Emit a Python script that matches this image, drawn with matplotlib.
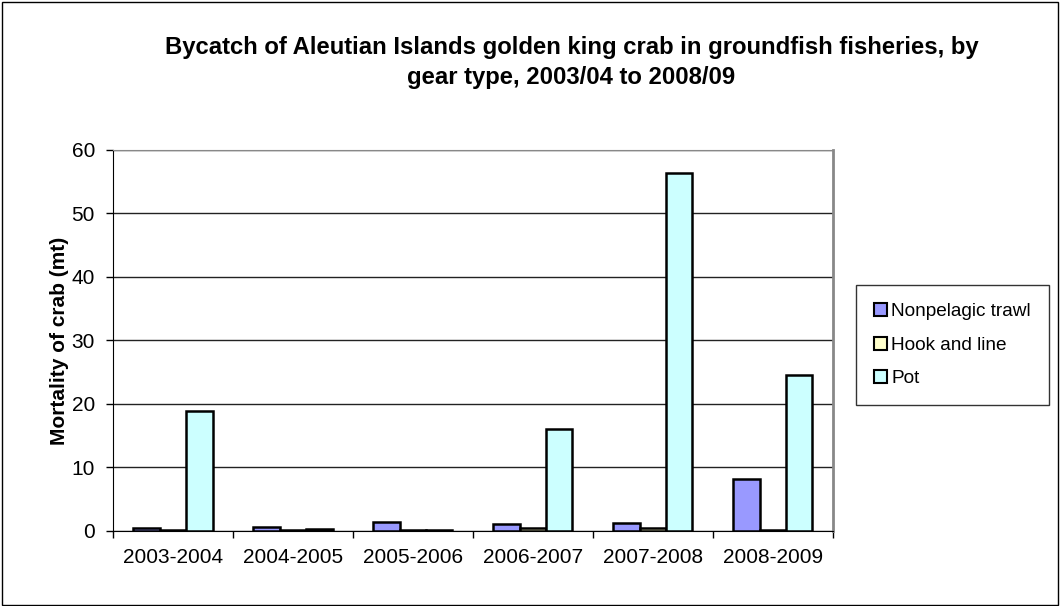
import numpy as np
import matplotlib.pyplot as plt
from matplotlib.patches import Rectangle

# Data
seasons = ['2003-2004', '2004-2005', '2005-2006', '2006-2007', '2007-2008', '2008-2009']
trawl = [0.5, 0.7, 1.4, 1.1, 1.3, 8.2]
hook = [0.1, 0.1, 0.1, 0.4, 0.5, 0.1]
pot = [18.9, 0.3, 0.1, 16.0, 56.3, 24.5]
series_names = ['Nonpelagic trawl', 'Hook and line', 'Pot']
colors = ['#9999FF', '#FFFFCC', '#CCFFFF']

plt.rcParams['font.family'] = ['Liberation Sans', 'DejaVu Sans']

fig = plt.figure(figsize=(10.6, 6.06), dpi=100)
fig.patches.append(Rectangle((0.002, 0.002), 0.996, 0.995, transform=fig.transFigure,
                             fill=False, edgecolor='black', linewidth=1))
ax = fig.add_axes([0.1066, 0.1238, 0.679, 0.6287])

x = np.arange(len(seasons))
w = 0.22
for i, vals in enumerate([trawl, hook, pot]):
    ax.bar(x + (i - 1) * w, vals, w, color=colors[i], edgecolor='black',
           linewidth=1.8, label=series_names[i], zorder=3)

ax.set_xlim(-0.5, len(seasons) - 0.5)
ax.set_ylim(0, 60)
ax.set_yticks(range(0, 61, 10))
ax.set_xticks(np.arange(-0.5, len(seasons), 1))
ax.set_xticklabels([])
ax.set_xticks(x, minor=True)
ax.set_xticklabels(seasons, minor=True, fontsize=15)
ax.tick_params(axis='x', which='minor', length=0, pad=12)
ax.tick_params(axis='x', which='major', direction='out', length=5, width=1)
ax.tick_params(axis='y', direction='out', length=5, width=1, labelsize=15, pad=8)
ax.yaxis.grid(True, color='#222222', linewidth=1, zorder=0)
ax.spines['top'].set_color('#888888')
ax.spines['right'].set_color('#888888')
ax.spines['right'].set_linewidth(2)

ax.set_ylabel('Mortality of crab (mt)', fontsize=15, fontweight='bold', labelpad=2)
fig.text(0.539, 0.897, 'Bycatch of Aleutian Islands golden king crab in groundfish fisheries, by\ngear type, 2003/04 to 2008/09',
         ha='center', va='center', fontsize=17.2, fontweight='bold', linespacing=1.35)

leg = ax.legend(loc='upper left', bbox_to_anchor=(856 / 1060, 1 - 285 / 606),
                bbox_transform=fig.transFigure,
                frameon=True, fancybox=False, edgecolor='black', fontsize=13.7,
                handlelength=0.7, handleheight=0.7, handletextpad=0.2,
                labelspacing=0.85, borderpad=0.95, borderaxespad=0)
leg.get_frame().set_linewidth(1)
for h in leg.legend_handles:
    h.set_linewidth(1.5)

fig.savefig('out.png', dpi=100)
